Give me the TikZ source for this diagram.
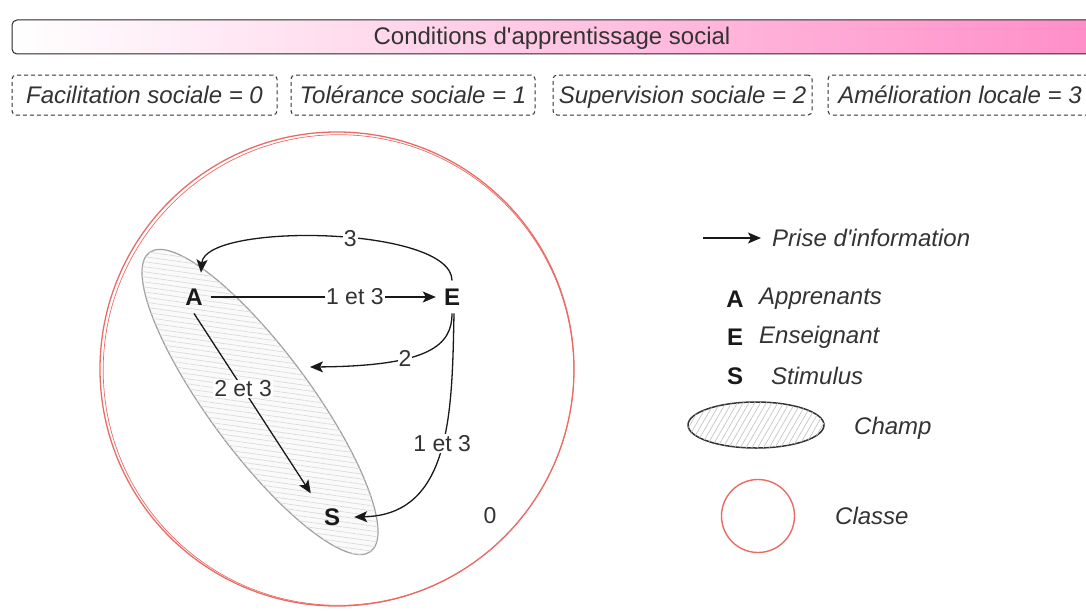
\documentclass[tikz,border=0pt]{standalone}
\usepackage{fontspec}
\setmainfont{Liberation Sans}[Ligatures=TeXOff]
\usetikzlibrary{arrows.meta,patterns.meta,shapes.geometric}
\definecolor{txt}{HTML}{333333}
\definecolor{classe}{HTML}{EA6B66}
\definecolor{pinkend}{HTML}{FF8EC8}
\begin{document}
\begin{tikzpicture}[x=1pt,y=-1pt,
  lbl/.style={font=\fontsize{23}{25}\selectfont, text=txt},
  elbl/.style={lbl, fill=white, inner sep=1pt},
  itl/.style={font=\fontsize{24}{26}\selectfont\itshape, text=txt},
  letter/.style={font=\fontsize{24}{26}\selectfont\bfseries, text=black!90, inner sep=8pt},
  dbox/.style={draw=txt, line width=1pt, dash pattern=on 4pt off 3pt, rounded corners=4pt,
     minimum height=40pt, inner sep=0pt, text height=19pt, text depth=3pt, itl},
  arr/.style={draw=black!90, line width=1.3pt, -{Stealth[length=13pt,width=11pt,inset=3pt]}},
  hatch/.style={pattern={Lines[angle=#1,distance=5pt,line width=0.7pt]}},
]
\useasboundingbox (0,0) rectangle (1086,610);

% title bar
\node[draw=txt!80!black, line width=1pt, rounded corners=5pt, left color=white, right color=pinkend,
      minimum width=1080pt, minimum height=34pt, inner sep=0pt, text height=19pt, text depth=3pt,
      font=\fontsize{24}{26}\selectfont, text=txt] (title) at (552,37)
      {Conditions d'apprentissage social};

% dashed boxes
\node[dbox, minimum width=265pt] (b0) at (144.5,95) {Facilitation sociale = 0};
\node[dbox, minimum width=244pt] (b1) at (413,95) {Tolérance sociale = 1};
\node[dbox, minimum width=259pt] (b2) at (682.5,95) {Supervision sociale = 2};
\node[dbox, minimum width=264pt] (b3) at (960,95) {Amélioration locale = 3};

% classe circle
\draw[classe, line width=1.3pt] (337,369) circle[radius=237];
\draw[classe, line width=0.7pt] (338.5,370) circle[radius=235.3];

% champ ellipse
\coordinate (cc) at (260,402);
\draw[draw=gray!75, line width=1.2pt, fill=gray!4, rotate around={-53.5:(cc)},
      postaction={hatch=-8, pattern color=gray!28}]
      (cc) ellipse[x radius=186, y radius=51];
\coordinate (champE) at (310,367);

% nodes
\node[letter] (A) at (194,297) {A};
\node[letter] (E) at (452,297) {E};
\node[letter] (S) at (332,517) {S};
\node[lbl] (zero) at (490,516) {0};

% connectors
\draw[arr] (A.east) -- node[elbl, pos=0.64] {1 et 3} (E.west);
\draw[arr] (E.north) .. controls (452,226) and (205,222) ..
      node[elbl, pos=0.44] {3} ([xshift=7pt,yshift=8pt]A.north);
\draw[arr] (E.south) .. controls (452,345) and (430,366) ..
      node[elbl, pos=0.64] {2} (champE);
\draw[arr] ([xshift=2pt]E.south) .. controls (452,410) and (452,515) ..
      node[elbl, pos=0.47] {1 et 3} ([xshift=6pt]S.east);
\draw[arr] (A.south) -- node[elbl, pos=0.42] {2 et 3} ([xshift=-5pt,yshift=7pt]S.north west);

% legend
\coordinate (l0) at (703,238);
\node[itl, anchor=west, inner sep=0pt] (li) at (772,238) {Prise d'information};
\draw[arr] (l0) -- ([xshift=-11pt]li.west);

\node[letter, inner sep=0pt] (lA) at (735,299) {A};
\node[itl, anchor=west, inner sep=0pt] (lAt) at (759,299) {Apprenants};
\node[letter, inner sep=0pt] (lE) at (735,337) {E};
\node[itl, anchor=west, inner sep=0pt] (lEt) at (759,337) {Enseignant};
\node[letter, inner sep=0pt] (lS) at (735,376) {S};
\node[itl, anchor=west, inner sep=0pt] (lSt) at (771,376) {Stimulus};

\draw[draw=txt, line width=1.5pt, fill=white, postaction={hatch=60, pattern color=gray!45}]
      (756,425) ellipse[x radius=68, y radius=23];
\node[itl, anchor=west, inner sep=0pt] (lC) at (854,428) {Champ};

\draw[classe, line width=1.4pt] (758,516) circle[radius=36.5];
\node[itl, anchor=west, inner sep=0pt] (lK) at (835,516) {Classe};
\end{tikzpicture}
\end{document}
